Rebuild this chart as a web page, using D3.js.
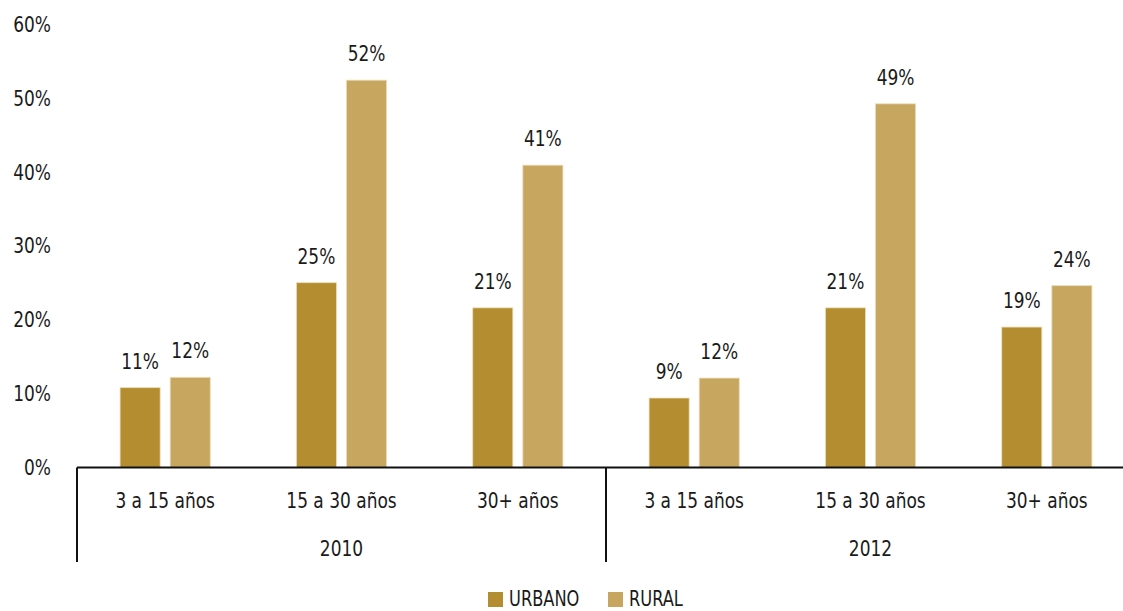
<!DOCTYPE html>
<html>
<head>
<meta charset="utf-8">
<script src="https://cdn.jsdelivr.net/npm/d3@7"></script>
<style>
  body { margin: 0; background: #fff; }
  text { font-family: "DejaVu Sans Condensed", "Liberation Sans Narrow", sans-serif; fill: #1a1a1a; font-size: 22px; }
</style>
</head>
<body>
<div id="chart"></div>
<script>
var width = 1123,
    height = 611;

// data
var years = ["2010", "2012"];
var ageGroups = ["3 a 15 años", "15 a 30 años", "30+ años"];
var series = ["URBANO", "RURAL"];
var urbano = [10.8, 25.0, 21.6, 9.4, 21.6, 19.0];
var rural = [12.2, 52.4, 40.9, 12.1, 49.2, 24.6];
var urbanoLabels = ["11%", "25%", "21%", "9%", "21%", "19%"];
var ruralLabels = ["12%", "52%", "41%", "12%", "49%", "24%"];
var yTicks = [0, 10, 20, 30, 40, 50, 60];

var colors = ["#b38d2f", "#c7a760"];
var squeeze = 0.86; // narrow the glyphs to look like a condensed face

// one row per (year, age group)
var rows = [];
years.forEach(function (yr, yi) {
    ageGroups.forEach(function (g, gi) {
        var i = yi * ageGroups.length + gi;
        rows.push({
            key: yr + "|" + g, year: yr, group: g,
            values: [urbano[i], rural[i]],
            labels: [urbanoLabels[i], ruralLabels[i]]
        });
    });
});

var left = 77, right = 1135, zeroY = 467.5, topY = 24;

var x = d3.scaleBand()
    .domain(rows.map(function (d) { return d.key; }))
    .range([left, right]);

var xs = d3.scaleBand()
    .domain(series)
    .range([0, x.bandwidth()])
    .paddingInner(0.2)
    .paddingOuter(0.86);

var y = d3.scaleLinear()
    .domain([0, 60])
    .range([zeroY, topY]);

var svg = d3.select("#chart").append("svg")
    .attr("width", width)
    .attr("height", height);

function place(tx, ty) {
    return "translate(" + tx + "," + ty + ") scale(" + squeeze + ",1)";
}

// y tick labels (no axis line)
svg.append("g").selectAll("text")
    .data(yTicks)
    .enter().append("text")
    .attr("transform", function (d) { return place(51, y(d)); })
    .attr("dy", "0.35em")
    .attr("text-anchor", "end")
    .text(function (d) { return d + "%"; });

// bars
var grp = svg.append("g").selectAll("g")
    .data(rows)
    .enter().append("g")
    .attr("transform", function (d) { return "translate(" + x(d.key) + ",0)"; });

grp.selectAll("rect")
    .data(function (d) { return d.values.map(function (v, i) { return { s: series[i], v: v, i: i, label: d.labels[i] }; }); })
    .enter().append("rect")
    .attr("x", function (d) { return xs(d.s); })
    .attr("width", xs.bandwidth())
    .attr("y", function (d) { return y(d.v); })
    .attr("height", function (d) { return zeroY - y(d.v); })
    .style("fill", function (d) { return colors[d.i]; })
    .style("stroke", "#ecdcb8")
    .style("stroke-width", 0.8);

grp.selectAll("text.val")
    .data(function (d) { return d.values.map(function (v, i) { return { s: series[i], v: v, label: d.labels[i] }; }); })
    .enter().append("text")
    .attr("class", "val")
    .attr("transform", function (d) { return place(xs(d.s) + xs.bandwidth() / 2, y(d.v) - 19); })
    .attr("text-anchor", "middle")
    .text(function (d) { return d.label; });

// category labels
svg.append("g").selectAll("text")
    .data(rows)
    .enter().append("text")
    .attr("transform", function (d) { return place(x(d.key) + x.bandwidth() / 2, 500); })
    .attr("dy", "0.35em")
    .attr("text-anchor", "middle")
    .text(function (d) { return d.group; });

// year labels
var yearW = x.bandwidth() * ageGroups.length;
svg.append("g").selectAll("text")
    .data(years)
    .enter().append("text")
    .attr("transform", function (d, i) { return place(left + yearW * i + yearW / 2, 548); })
    .attr("dy", "0.35em")
    .attr("text-anchor", "middle")
    .text(function (d) { return d; });

// axis lines
svg.append("line")
    .attr("x1", left).attr("x2", width)
    .attr("y1", zeroY).attr("y2", zeroY)
    .style("stroke", "#111").style("stroke-width", 2);

svg.append("g").selectAll("line")
    .data(years)
    .enter().append("line")
    .attr("x1", function (d, i) { return left + yearW * i; })
    .attr("x2", function (d, i) { return left + yearW * i; })
    .attr("y1", zeroY).attr("y2", 562)
    .style("stroke", "#111").style("stroke-width", 2);

// legend
var legend = svg.append("g").selectAll("g")
    .data(series)
    .enter().append("g")
    .attr("transform", function (d, i) { return "translate(" + (488 + i * 120) + ",592)"; });

legend.append("rect")
    .attr("width", 15).attr("height", 15)
    .style("fill", function (d, i) { return colors[i]; });

legend.append("text")
    .attr("transform", place(21, 14))
    .style("font-size", "21px")
    .text(function (d) { return d; });
</script>
</body>
</html>
